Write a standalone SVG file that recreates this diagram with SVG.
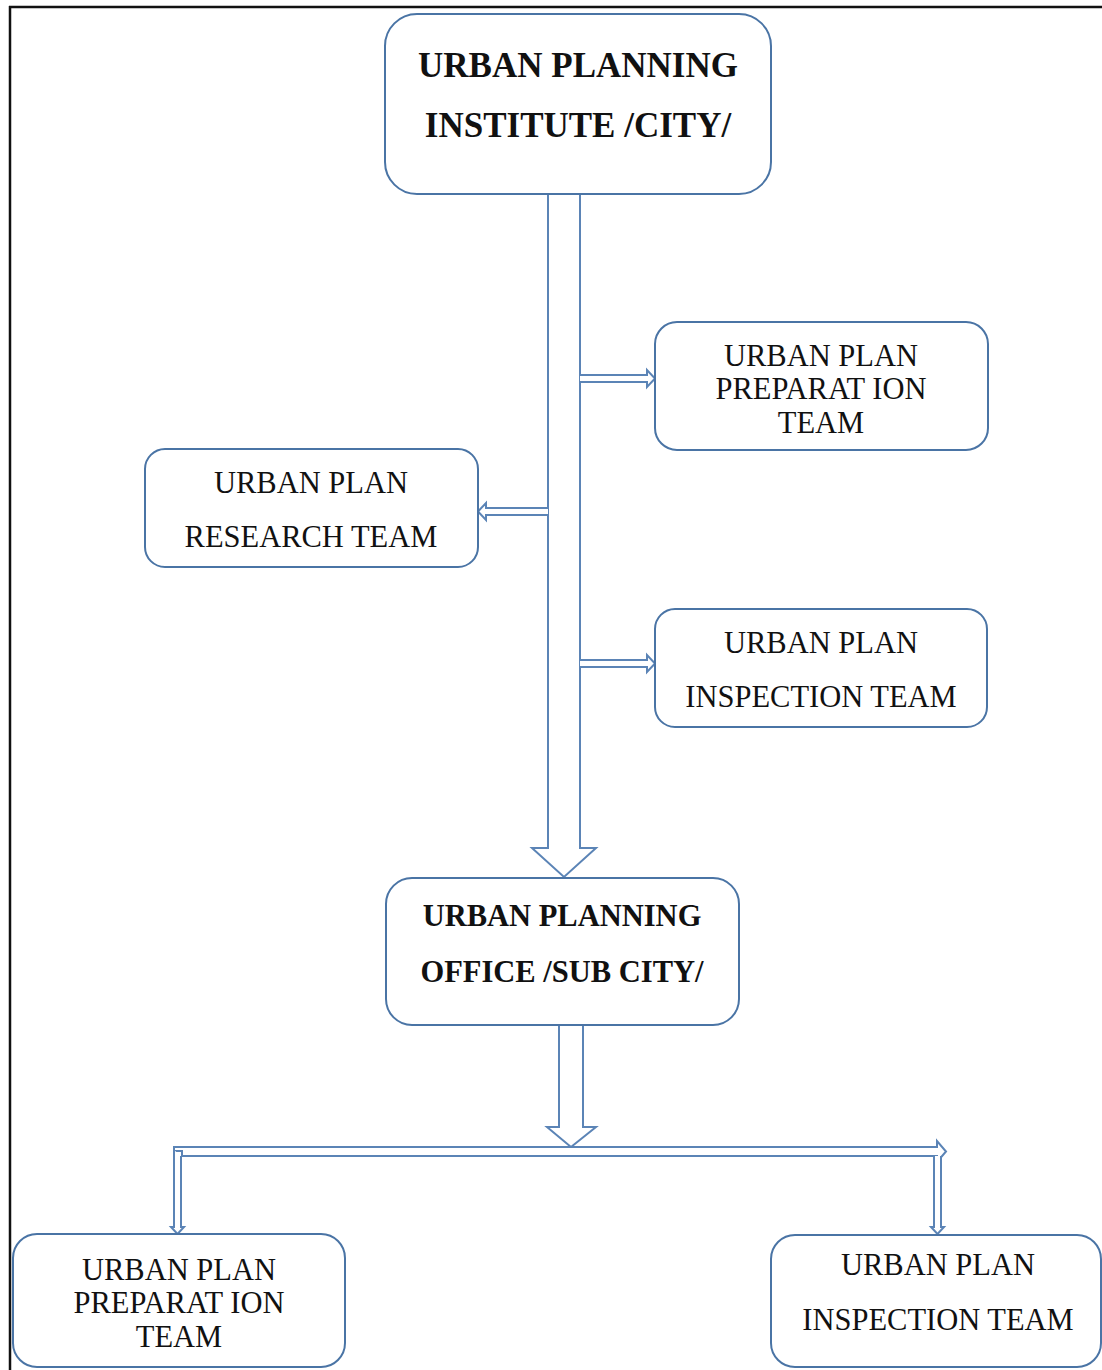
<svg xmlns="http://www.w3.org/2000/svg" width="1102" height="1370" viewBox="0 0 1102 1370">
<style>
.node{fill:#ffffff;stroke:#4a74a5;stroke-width:2}
.arr{fill:#ffffff;stroke:#5b84b6;stroke-width:2;stroke-linejoin:miter}
.t{font-family:"Liberation Serif","Times New Roman",serif;font-size:30.5px;fill:#111;text-anchor:middle}
.b{font-weight:bold}
.big{font-size:35px}
</style>
<rect width="1102" height="1370" fill="#ffffff"/>
<g id="frame" stroke="#111" stroke-width="2.5" fill="none">
<line x1="9" y1="7" x2="1102" y2="7"/>
<line x1="10" y1="6" x2="10" y2="1370"/>
</g>
<g id="connectors">
<path class="arr" d="M548,194 L548,848 L532,848 L564,877 L596,848 L580,848 L580,194"/>
<path class="arr" d="M580,375 L647,375 L647,370 L655,378.5 L647,387 L647,382 L580,382"/>
<path class="arr" d="M580,660 L647,660 L647,655 L655,663.5 L647,672 L647,667 L580,667"/>
<path class="arr" d="M548,508 L486,508 L486,503 L478,511.5 L486,520 L486,515 L548,515"/>
<path class="arr" d="M559,1025 L559,1127 L547,1127 L571,1147 L596,1127 L583,1127 L583,1025"/>
<path class="arr" d="M174,1147 L937,1147 L937,1141 L946,1151.5 L937,1162 L937,1156 L182,1156 L182,1151 L174,1151 Z"/>
<path class="arr" d="M174,1150 L174,1227 L171,1227 L177.5,1234 L184,1227 L181,1227 L181,1156"/>
<path class="arr" d="M934,1156 L934,1227 L931,1227 L937.5,1234 L944,1227 L941,1227 L941,1156"/>
</g>
<g id="n_institute">
<rect class="node" x="385" y="14" width="386" height="180" rx="32"/>
<text class="t b big" x="578" y="77">URBAN PLANNING</text>
<text class="t b big" x="578" y="137">INSTITUTE /CITY/</text>
</g>
<g id="n_prep_top">
<rect class="node" x="655" y="322" width="333" height="128" rx="22"/>
<text class="t" x="821" y="366">URBAN PLAN</text>
<text class="t" x="821" y="399">PREPARAT ION</text>
<text class="t" x="821" y="433">TEAM</text>
</g>
<g id="n_research">
<rect class="node" x="145" y="449" width="333" height="118" rx="20"/>
<text class="t" x="311" y="493">URBAN PLAN</text>
<text class="t" x="311" y="547">RESEARCH TEAM</text>
</g>
<g id="n_inspect_top">
<rect class="node" x="655" y="609" width="332" height="118" rx="20"/>
<text class="t" x="821" y="653">URBAN PLAN</text>
<text class="t" x="821" y="707">INSPECTION TEAM</text>
</g>
<g id="n_office">
<rect class="node" x="386" y="878" width="353" height="147" rx="26"/>
<text class="t b" x="562" y="926">URBAN PLANNING</text>
<text class="t b" x="562" y="982">OFFICE /SUB CITY/</text>
</g>
<g id="n_prep_bottom">
<rect class="node" x="13" y="1234" width="332" height="133" rx="24"/>
<text class="t" x="179" y="1280">URBAN PLAN</text>
<text class="t" x="179" y="1313">PREPARAT ION</text>
<text class="t" x="179" y="1347">TEAM</text>
</g>
<g id="n_inspect_bottom">
<rect class="node" x="771" y="1235" width="330" height="132" rx="24"/>
<text class="t" x="938" y="1275">URBAN PLAN</text>
<text class="t" x="938" y="1330">INSPECTION TEAM</text>
</g>
</svg>
